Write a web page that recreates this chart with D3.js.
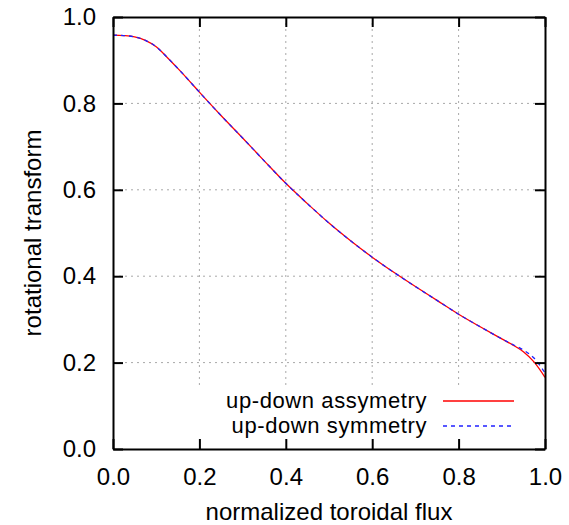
<!DOCTYPE html>
<html>
<head>
<meta charset="utf-8">
<script src="https://cdn.jsdelivr.net/npm/d3@7"></script>
<style>
  body { margin: 0; background: #fff; }
  text { font-family: "Liberation Sans", Arial, sans-serif; }
</style>
</head>
<body>
<div id="chart-area"></div>
<script>
const MARGIN = { LEFT: 113, RIGHT: 24, TOP: 17, BOTTOM: 76 }
const WIDTH = 569 - MARGIN.LEFT - MARGIN.RIGHT
const HEIGHT = 525 - MARGIN.TOP - MARGIN.BOTTOM

// values
const flux = [0, 0.025, 0.05, 0.075, 0.1, 0.125, 0.15, 0.175, 0.2, 0.25, 0.3, 0.35, 0.4, 0.45,
  0.5, 0.55, 0.6, 0.65, 0.7, 0.75, 0.8, 0.85, 0.9, 0.925, 0.95, 0.975, 1.0]
const iotaAsym = [0.958, 0.957, 0.954, 0.946, 0.931, 0.907, 0.881, 0.854, 0.826, 0.772, 0.720, 0.667, 0.615, 0.568,
  0.523, 0.482, 0.444, 0.409, 0.376, 0.344, 0.312, 0.283, 0.255, 0.241, 0.225, 0.201, 0.166]
const iotaSym = [0.958, 0.957, 0.954, 0.946, 0.931, 0.907, 0.881, 0.854, 0.826, 0.772, 0.720, 0.667, 0.615, 0.568,
  0.523, 0.482, 0.444, 0.409, 0.376, 0.344, 0.312, 0.283, 0.255, 0.242, 0.229, 0.210, 0.176]
const ticks = [0, 0.2, 0.4, 0.6, 0.8, 1.0]
const gridTicks = [0.2, 0.4, 0.6, 0.8]
const seriesNames = ["up-down assymetry", "up-down symmetry"]

const svg = d3.select("#chart-area").append("svg")
  .attr("width", 569)
  .attr("height", 525)
.append("g")
  .attr("transform", `translate(${MARGIN.LEFT},${MARGIN.TOP})`)

const x = d3.scaleLinear().domain([0, 1]).range([0, WIDTH])
const y = d3.scaleLinear().domain([0, 1]).range([HEIGHT, 0])

// grid
svg.selectAll(".gx").data(gridTicks).join("line")
  .attr("x1", d => x(d)).attr("x2", d => x(d))
  .attr("y1", 0).attr("y2", HEIGHT)
  .attr("stroke", "#a8a8a8").attr("stroke-dasharray", "2,4")
svg.selectAll(".gy").data(gridTicks).join("line")
  .attr("x1", 0).attr("x2", WIDTH)
  .attr("y1", d => y(d)).attr("y2", d => y(d))
  .attr("stroke", "#a8a8a8").attr("stroke-dasharray", "2,4")

// legend background hides the grid
svg.append("rect")
  .attr("x", 82).attr("y", 368)
  .attr("width", 340).attr("height", HEIGHT - 369)
  .attr("fill", "#fff")

const line = (vals) => d3.line()
  .x((d, i) => x(flux[i]))
  .y(d => y(d))
  .curve(d3.curveMonotoneX)(vals)

svg.append("path")
  .attr("d", line(iotaAsym))
  .attr("fill", "none").attr("stroke", "#ff0000").attr("stroke-width", 1.3)
svg.append("path")
  .attr("d", line(iotaSym))
  .attr("fill", "none").attr("stroke", "#2020ff").attr("stroke-width", 1.3)
  .attr("stroke-dasharray", "4,4")

// axes, ticks inward on all sides
const fmt = d3.format(".1f")
const styleAxis = g => {
  g.select(".domain").attr("stroke-width", 2)
  g.selectAll(".tick line").attr("stroke-width", 2)
  g.selectAll("text").attr("font-size", 24).attr("fill", "#000")
    .attr("font-family", "'Liberation Sans', Arial, sans-serif")
}
svg.append("g").attr("transform", `translate(0,${HEIGHT})`)
  .call(d3.axisBottom(x).tickValues(ticks).tickFormat(fmt).tickSize(-10).tickSizeOuter(0).tickPadding(19))
  .call(styleAxis)
svg.append("g")
  .call(d3.axisLeft(y).tickValues(ticks).tickFormat(fmt).tickSize(-10).tickSizeOuter(0).tickPadding(17))
  .call(styleAxis)
svg.append("g")
  .call(d3.axisTop(x).tickValues(ticks).tickFormat("").tickSize(-10).tickSizeOuter(0))
  .call(styleAxis)
svg.append("g").attr("transform", `translate(${WIDTH},0)`)
  .call(d3.axisRight(y).tickValues(ticks).tickFormat("").tickSize(-10).tickSizeOuter(0))
  .call(styleAxis)

// axis titles
svg.append("text")
  .attr("x", WIDTH / 2).attr("y", 503)
  .attr("text-anchor", "middle").attr("font-size", 24)
  .text("normalized toroidal flux")
svg.append("text")
  .attr("transform", `translate(${41 - MARGIN.LEFT},${HEIGHT / 2}) rotate(-90)`)
  .attr("text-anchor", "middle").attr("font-size", 24)
  .text("rotational transform")

// legend
const legend = svg.selectAll(".legend").data(seriesNames).join("g")
  .attr("transform", (d, i) => `translate(0,${384 + i * 25})`)
legend.append("text")
  .attr("x", 314).attr("y", 7)
  .attr("text-anchor", "end").attr("font-size", 22)
  .attr("letter-spacing", 0.6)
  .text(d => d)
legend.append("line")
  .attr("x1", 330).attr("x2", 401)
  .attr("y1", 0).attr("y2", 0)
  .attr("stroke", (d, i) => i === 0 ? "#ff0000" : "#2020ff")
  .attr("stroke-width", 1.3)
  .attr("stroke-dasharray", (d, i) => i === 0 ? null : "4,4")
</script>
</body>
</html>
